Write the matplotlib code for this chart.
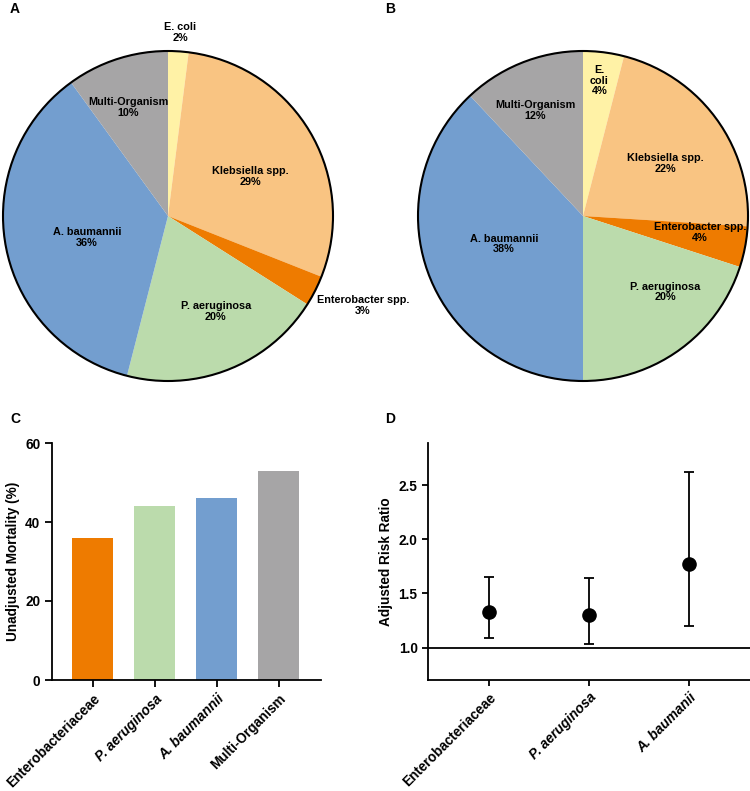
import matplotlib
matplotlib.use("Agg")
import matplotlib.pyplot as plt
from matplotlib.patches import Circle

plt.rcParams['font.family'] = ['Liberation Sans', 'DejaVu Sans']
plt.rcParams['font.weight'] = 'bold'

# ---------------- data ----------------
pie_labels = ["E. coli", "Klebsiella spp.", "Enterobacter spp.", "P. aeruginosa",
              "A. baumannii", "Multi-Organism"]
pie_a_values = [2, 29, 3, 20, 36, 10]
pie_b_values = [4, 22, 4, 20, 38, 12]
pie_colors = ["#FFF2A6", "#F9C482", "#EE7B00", "#BBDBAC", "#739ECF", "#A6A5A6"]

bar_categories = ["Enterobacteriaceae", "P. aeruginosa", "A. baumannii", "Multi-Organism"]
bar_values = [36, 44, 46, 53]
bar_colors = ["#EE7B00", "#BBDBAC", "#739ECF", "#A6A5A6"]
bar_italic = [False, True, True, False]

rr_categories = ["Enterobacteriaceae", "P. aeruginosa", "A. baumanii"]
rr_values = [1.33, 1.30, 1.77]
rr_lower = [1.09, 1.03, 1.20]
rr_upper = [1.65, 1.64, 2.62]
rr_italic = [False, True, True]

# label positions (in pie radius units)
pie_a_label_pos = [(0.073, 1.11), (0.50, 0.24), (1.18, -0.54), (0.29, -0.58),
                   (-0.49, -0.13), (-0.24, 0.66)]
pie_b_label_pos = [(0.10, 0.82), (0.50, 0.32), (0.71, -0.10), (0.50, -0.46),
                   (-0.48, -0.17), (-0.29, 0.64)]

W, H = 750, 791
fig = plt.figure(figsize=(W / 100, H / 100), dpi=100)

def px_axes(left, top, right, bottom):
    return fig.add_axes([left / W, 1 - bottom / H, (right - left) / W, (bottom - top) / H])

def draw_pie(ax, values, positions, split_ecoli=False):
    wedges, _ = ax.pie(values, colors=pie_colors, startangle=90, counterclock=False,
                       radius=1, wedgeprops=dict(linewidth=0))
    for w in wedges:
        w.set_clip_on(False)
    ax.add_patch(Circle((0, 0), 1, fill=False, edgecolor='black', lw=1.5,
                        zorder=5, clip_on=False))
    for lab, v, (x, y) in zip(pie_labels, values, positions):
        name = lab
        if split_ecoli and lab == "E. coli":
            name = "E.\ncoli"
        ax.text(x, y, f"{name}\n{v}%", ha='center', va='center', fontsize=7.8,
                fontweight='bold', linespacing=1.1, zorder=6)
    ax.set_xlim(-1, 1)
    ax.set_ylim(-1, 1)
    ax.set_aspect('equal')
    ax.axis('off')

axA = px_axes(3, 51, 333, 381)
draw_pie(axA, pie_a_values, pie_a_label_pos)
axB = px_axes(418, 51, 748, 381)
draw_pie(axB, pie_b_values, pie_b_label_pos, split_ecoli=True)

# ---------------- panel C ----------------
axC = px_axes(52, 443, 321, 680)
xs = list(range(len(bar_categories)))
axC.bar(xs, bar_values, width=0.66, color=bar_colors, edgecolor='none')
axC.set_xlim(-0.66, 3.68)
axC.set_ylim(0, 60)
axC.set_yticks([0, 20, 40, 60])
axC.set_xticks(xs)
axC.set_xticklabels(bar_categories, rotation=45, ha='right', rotation_mode='anchor',
                    fontsize=10, fontweight='bold')
for t, it in zip(axC.get_xticklabels(), bar_italic):
    if it:
        t.set_fontstyle('italic')
axC.set_ylabel("Unadjusted Mortality (%)", fontsize=9.8, fontweight='bold', labelpad=4)
for s in ['top', 'right']:
    axC.spines[s].set_visible(False)
for s in ['left', 'bottom']:
    axC.spines[s].set_linewidth(1.3)
axC.tick_params(axis='both', width=1.3, length=5, labelsize=9.8)

# ---------------- panel D ----------------
axD = px_axes(428, 443, 750, 680)
xr = list(range(len(rr_categories)))
yerr = [[v - lo for v, lo in zip(rr_values, rr_lower)],
        [hi - v for v, hi in zip(rr_values, rr_upper)]]
axD.axhline(1.0, color='black', lw=1.3, zorder=1)
axD.errorbar(xr, rr_values, yerr=yerr, fmt='o', color='black', ecolor='black',
             markersize=9.5, elinewidth=1.3, capsize=3.5, capthick=1.3, zorder=3)
axD.set_xlim(-0.61, 2.61)
axD.set_ylim(0.70, 2.89)
axD.set_yticks([1.0, 1.5, 2.0, 2.5])
axD.set_yticklabels(["1.0", "1.5", "2.0", "2.5"])
axD.set_xticks(xr)
axD.set_xticklabels(rr_categories, rotation=45, ha='right', rotation_mode='anchor',
                    fontsize=10, fontweight='bold')
for t, it in zip(axD.get_xticklabels(), rr_italic):
    if it:
        t.set_fontstyle('italic')
axD.set_ylabel("Adjusted Risk Ratio", fontsize=9.8, fontweight='bold', labelpad=4)
for s in ['top', 'right']:
    axD.spines[s].set_visible(False)
for s in ['left', 'bottom']:
    axD.spines[s].set_linewidth(1.3)
axD.tick_params(axis='both', width=1.3, length=4, labelsize=9.8)

# panel letters
for letter, (x, y) in zip("ABCD", [(10, 9), (385, 9), (10, 419), (385, 419)]):
    fig.text(x / W, 1 - y / H, letter, fontsize=10, fontweight='bold',
             ha='left', va='center')

fig.savefig("out.png", dpi=100)
